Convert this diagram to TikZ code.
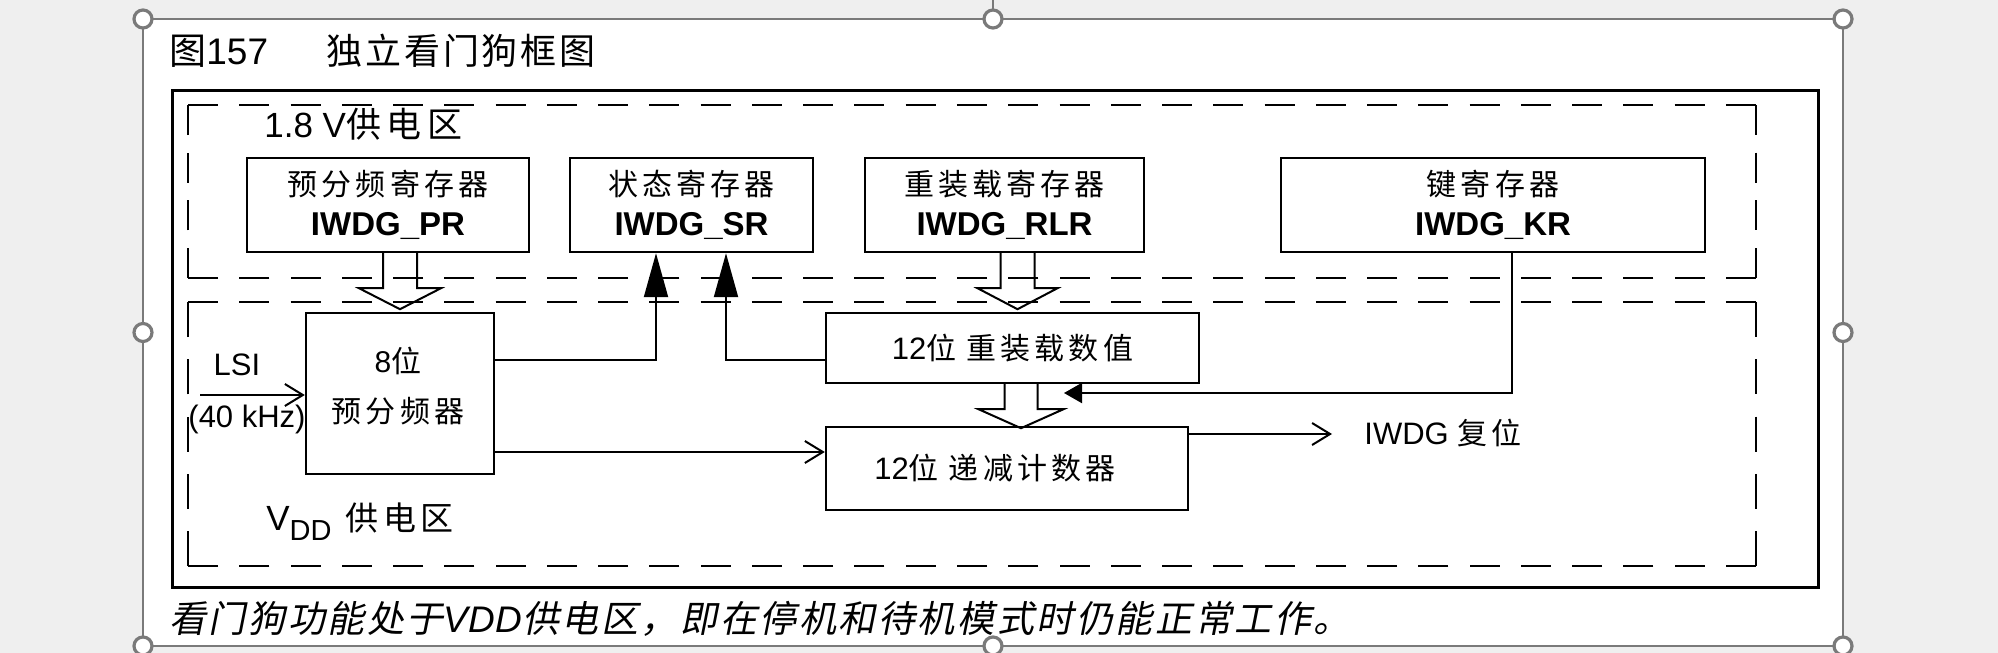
\documentclass[tikz,border=0pt]{standalone}
\usepackage{fontspec}
\setmainfont{Liberation Sans}
\newfontfamily\cjk{Noto Sans CJK SC}[LetterSpace=14]
\newfontfamily\cjkw{Noto Sans CJK SC}[LetterSpace=16]
\newfontfamily\cjkt{Noto Sans CJK SC}[LetterSpace=8]
\newfontfamily\cjki{Noto Sans CJK SC}[FakeSlant=0.2,LetterSpace=7]
\usetikzlibrary{arrows.meta,calc}
\definecolor{bggray}{HTML}{EFEFEF}
\definecolor{selgray}{HTML}{7A7A7A}
\newcommand\setfs[1]{\fontsize{#1}{1.25\dimexpr#1\relax}\selectfont}
\begin{document}
\begin{tikzpicture}[x=0.5pt,y=-0.5pt,
  box/.style={draw,line width=1.2pt,inner sep=0pt,align=center},
  txt/.style={inner sep=0pt,align=center},
  conn/.style={line width=1pt},
  solidarrow/.style={conn,-{Triangle[length=22pt,width=12pt]}},
  smallsolid/.style={conn,-{Triangle[length=9pt,width=10pt]}},
  openarrow/.style={conn,-{Straight Barb[length=9pt,width=11pt]}},
  hollow/.style={line width=1pt,line join=miter},
  dH/.style={line width=1.2pt,dash pattern=on 15pt off 10.633pt},
  dVa/.style={line width=1.2pt,dash pattern=on 15pt off 8.833pt},
  dVb/.style={line width=1.2pt,dash pattern=on 17.5pt off 11.125pt},
  handle/.style={selgray,line width=1.6pt,fill=white}
]
\useasboundingbox (0,0) rectangle (1998,653);
\fill[bggray] (0,0) rectangle (1998,653);
\fill[white] (143,19) rectangle (1843,646);
\draw[selgray,line width=1pt] (993,0) -- (993,19);
\draw[selgray,line width=1pt] (143,19) rectangle (1843,646);
\foreach \p in {(143,19),(993,19),(1843,19),(143,332.5),(1843,332.5),(143,646),(993,646),(1843,646)}
  \draw[handle] \p circle[radius=4.5pt];

% title
\node[txt,anchor=west] (t1) at (169,51) {\setfs{18.5pt}{\cjkt 图}157};
\node[txt,anchor=west] (t2) at (326,51) {\setfs{18pt}\cjkt 独立看门狗框图};

% outer frame
\draw[line width=1.5pt] (172,90) rectangle (1818,587);

% dashed regions
\draw[dH] (188,105) -- (1756,105);
\draw[dVa] (1756,105) -- (1756,278);
\draw[dH] (1756,278) -- (188,278);
\draw[dVa] (188,278) -- (188,105);
\draw[dH] (188,302) -- (1756,302);
\draw[dVb] (1756,302) -- (1756,566);
\draw[dH] (1756,566) -- (188,566);
\draw[dVb] (188,566) -- (188,302);

\node[txt,anchor=west] (z18) at (264,124) {\setfs{17.5pt}1.8 V{\cjkw 供电区}};
\node[txt,anchor=west] (zdd) at (266,522) {\setfs{17.5pt}V\raisebox{-5pt}{\setfs{14.5pt}DD}\hspace{7pt}{\setfs{16.5pt}\cjk 供电区}};

% register boxes
\node[box,minimum width=141pt,minimum height=47pt,font=\setfs{15pt}] (pr) at (388,205) {{\cjk 预分频寄存器}\\[1pt]{\setfs{16.5pt}\bfseries IWDG\_PR}};
\node[box,minimum width=121.5pt,minimum height=47pt,font=\setfs{15pt}] (sr) at (691.5,205) {{\cjk 状态寄存器}\\[1pt]{\setfs{16.5pt}\bfseries IWDG\_SR}};
\node[box,minimum width=139.5pt,minimum height=47pt,font=\setfs{15pt}] (rlr) at (1004.5,205) {{\cjk 重装载寄存器}\\[1pt]{\setfs{16.5pt}\bfseries IWDG\_RLR}};
\node[box,minimum width=212pt,minimum height=47pt,font=\setfs{15pt}] (kr) at (1493,205) {{\cjk 键寄存器}\\[1pt]{\setfs{16.5pt}\bfseries IWDG\_KR}};

% lower boxes
\node[box,minimum width=94pt,minimum height=80.5pt] (pre) at (400,393.5) {};
\node[txt,font=\setfs{15pt}] (pretext) at (398,386) {8{\cjk 位}\\[6pt]{\cjk 预分频器}};
\node[box,minimum width=186.5pt,minimum height=35pt,font=\setfs{15pt}] (rel) at (1012.5,348) {{\setfs{15.5pt}12}{\cjk 位\hspace{5pt}重装载数值}};
\node[box,minimum width=181pt,minimum height=41.5pt,font=\setfs{15pt}] (cnt) at (1007,468.5) {\hspace{-12pt}{\setfs{15.5pt}12}{\cjk 位\hspace{5pt}递减计数器}};

% labels
\node[txt,font=\setfs{15.5pt}] (lsil) at (237,365) {LSI};
\node[txt,font=\setfs{15.5pt}] (khz) at (247,419) {(40 kHz)};
\node[txt,anchor=west,font=\setfs{15.5pt}] (rst) at (1364,433) {IWDG {\setfs{15pt}\cjk 复位}};

% helper coordinates
\coordinate (lsi) at (200,395);
\coordinate (ya) at (0,360);
\coordinate (yb) at (0,452);
\coordinate (xa) at (656,0);
\coordinate (xb) at (726,0);
\coordinate (xk) at (1512,0);
\coordinate (krend) at (1064,393);
\coordinate (rstin) at (1332,434);

% connectors
\draw[openarrow] (lsi) -- (pre.west |- lsi);
\draw[solidarrow] (pre.east |- ya) -| (sr.south -| xa);
\draw[solidarrow] (rel.west |- ya) -| (sr.south -| xb);
\draw[openarrow] (pre.east |- yb) -- (cnt.west |- yb);
\draw[openarrow] (cnt.east |- rstin) -- (rstin);
\draw[smallsolid] (kr.south -| xk) |- (krend);

% hollow block arrows
\draw[hollow] (pr.south -| pre.north) ++(-17,0) -- ++(0,35) -- ++(-24,0) -- ++(41,21) -- ++(41,-21) -- ++(-24,0) -- ++(0,-35);
\draw[hollow] ($(rlr.south)+(13,0)$) ++(-17,0) -- ++(0,35) -- ++(-23,0) -- ++(40,21) -- ++(40,-21) -- ++(-23,0) -- ++(0,-35);
\draw[hollow] ($(rel.south)+(8.5,0)$) ++(-16.5,0) -- ++(0,25) -- ++(-26,0) -- ++(42.5,19) -- ++(42.5,-19) -- ++(-26,0) -- ++(0,-25);

% caption
\node[txt,anchor=west,font=\setfs{18.5pt}] (cap) at (169,619) {{\cjki 看门狗功能处于}{\itshape VDD}{\cjki 供电区，即在停机和待机模式时仍能正常工作。}};
\end{tikzpicture}
\end{document}
